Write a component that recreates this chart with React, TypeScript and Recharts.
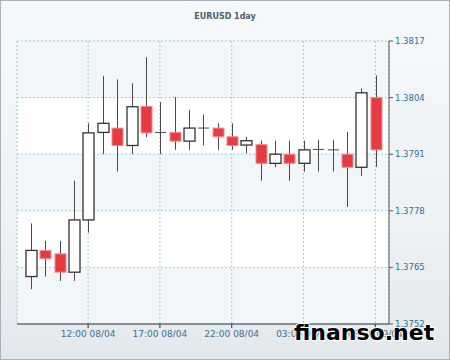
import React from 'react';
import { ComposedChart, Bar, XAxis, YAxis, CartesianGrid } from 'recharts';

const times = [
  '08:00 08/04', '09:00 08/04', '10:00 08/04', '11:00 08/04', '12:00 08/04',
  '13:00 08/04', '14:00 08/04', '15:00 08/04', '16:00 08/04', '17:00 08/04',
  '18:00 08/04', '19:00 08/04', '20:00 08/04', '21:00 08/04', '22:00 08/04',
  '23:00 08/04', '00:00 09/04', '01:00 09/04', '02:00 09/04', '03:00 09/04',
  '04:00 09/04', '05:00 09/04', '06:00 09/04', '07:00 09/04', '08:00 09/04',
];
const opens = [
  1.37629, 1.37689, 1.37681, 1.37639, 1.37759, 1.3796, 1.3797, 1.3793, 1.3802, 1.3796,
  1.3796, 1.3794, 1.3797, 1.3797, 1.3795, 1.37931, 1.37932, 1.37889, 1.3791, 1.37889,
  1.37921, 1.3792, 1.3791, 1.3788, 1.3804,
];
const highs = [
  1.37751, 1.37711, 1.37711, 1.37849, 1.37981, 1.3809, 1.38082, 1.38073, 1.38133, 1.3803,
  1.38041, 1.38012, 1.38001, 1.37981, 1.37981, 1.3795, 1.37941, 1.37941, 1.37941, 1.37941,
  1.37943, 1.37943, 1.37961, 1.38061, 1.38091,
];
const lows = [
  1.376, 1.37629, 1.37619, 1.37619, 1.3773, 1.3791, 1.3787, 1.3791, 1.37949, 1.3791,
  1.3792, 1.3792, 1.3793, 1.3792, 1.3792, 1.37912, 1.37849, 1.3788, 1.37849, 1.3787,
  1.3787, 1.3787, 1.37789, 1.3786, 1.37881,
];
const closes = [
  1.37689, 1.3767, 1.37639, 1.37759, 1.37959, 1.37981, 1.3793, 1.38019, 1.37959, 1.3796,
  1.3794, 1.3797, 1.3797, 1.3795, 1.3793, 1.37941, 1.37889, 1.3791, 1.37889, 1.3792,
  1.37921, 1.3792, 1.3788, 1.38051, 1.3792,
];
const timeTicks = ['12:00 08/04', '17:00 08/04', '22:00 08/04', '03:00 09/04', '08:00 09/04'];
const priceTicks = [1.3752, 1.3765, 1.3778, 1.3791, 1.3804, 1.3817];
const title = 'EURUSD 1day';
const watermark = 'finanso.net';

const data = times.map((t, i) => ({
  time: t,
  open: opens[i],
  high: highs[i],
  low: lows[i],
  close: closes[i],
  range: [lows[i], highs[i]],
}));

const Candle = (props: any) => {
  const { x, y, width, height, payload } = props;
  if (!payload) return null;
  const { open, close, high, low } = payload;
  const cx = Math.round(x + width / 2) + 0.5;
  const ratio = height / (high - low);
  const yOf = (v: number) => y + (high - v) * ratio;
  const up = close >= open;
  const top = yOf(Math.max(open, close));
  const bot = yOf(Math.min(open, close));
  const bw = 11;
  const left = cx - bw / 2;
  const bodyH = bot - top;
  const wickColor = '#4a4a4a';
  return (
    <g>
      <line x1={cx} x2={cx} y1={y} y2={y + height} stroke={wickColor} strokeWidth={1} />
      {bodyH < 1 ? (
        <line x1={left} x2={left + bw} y1={top} y2={top} stroke={wickColor} strokeWidth={1} />
      ) : up ? (
        <rect x={left} y={top} width={bw} height={bodyH} fill="#ffffff" stroke="#333333" strokeWidth={1.3} />
      ) : (
        <rect x={left} y={top} width={bw} height={bodyH} fill="#e63b40" stroke="#f28a8c" strokeWidth={1} />
      )}
    </g>
  );
};

export default function App() {
  return (
    <div
      style={{
        position: 'absolute',
        left: 0,
        top: 0,
        width: 450,
        height: 360,
        background: 'linear-gradient(180deg, #f6f9fb 0%, #eef2f5 60%, #e3e8ec 100%)',
        boxShadow: 'inset 0 0 0 1px #a9b2ba',
        fontFamily: '"DejaVu Sans", Verdana, sans-serif',
      }}
    >
      <div style={{ position: 'absolute', left: 0, top: 0 }}>
        <ComposedChart
          width={450}
          height={360}
          data={data}
          margin={{ top: 41, right: 0, bottom: 0, left: 17 }}
        >
          <CartesianGrid
            stroke="#99d0df"
            strokeDasharray="2 2"
            horizontalFill={['#f3f6f8', '#ffffff']}
            fillOpacity={1}
          />
          <XAxis
            dataKey="time"
            ticks={timeTicks}
            padding={{ left: 6.5, right: 6.5 }}
            height={36}
            tickSize={4}
            tickMargin={3}
            interval={0}
            axisLine={{ stroke: '#333333' }}
            tickLine={{ stroke: '#333333' }}
            tick={{ fill: '#3b6f93', fontSize: 9, fontFamily: '"DejaVu Sans", Verdana, sans-serif' }}
          />
          <XAxis
            xAxisId="top"
            orientation="top"
            dataKey="time"
            height={0}
            tick={false}
            tickLine={false}
            axisLine={{ stroke: '#444444' }}
          />
          <YAxis
            orientation="right"
            type="number"
            domain={[1.3752, 1.3817]}
            ticks={priceTicks}
            allowDataOverflow
            width={61}
            tickSize={4}
            tickMargin={2}
            interval={0}
            tickFormatter={(v: number) => v.toFixed(4)}
            axisLine={{ stroke: '#555555' }}
            tickLine={{ stroke: '#555555' }}
            tick={{ fill: '#2f6f99', fontSize: 8.5, fontFamily: '"DejaVu Sans", Verdana, sans-serif' }}
          />
          <YAxis
            yAxisId="left"
            orientation="left"
            width={0}
            tick={false}
            tickLine={false}
            axisLine={{ stroke: '#333333' }}
          />
          <Bar
            dataKey="range"
            barSize={11}
            shape={<Candle />}
            isAnimationActive={false}
          />
        </ComposedChart>
      </div>
      <svg
        width={450}
        height={360}
        style={{ position: 'absolute', left: 0, top: 0, pointerEvents: 'none' }}
      >
        <text
          x={225}
          y={19}
          textAnchor="middle"
          fontSize={8}
          fontWeight="bold"
          fill="#4f5d6b"
          fontFamily='"DejaVu Sans", Verdana, sans-serif'
        >
          {title}
        </text>
        <text
          x={294}
          y={340}
          fontSize={22}
          fontWeight="bold"
          fill="#000000"
          stroke="#ffffff"
          strokeWidth={2}
          paintOrder="stroke"
          fontFamily='"DejaVu Sans", Verdana, sans-serif'
        >
          {watermark}
        </text>
      </svg>
    </div>
  );
}
